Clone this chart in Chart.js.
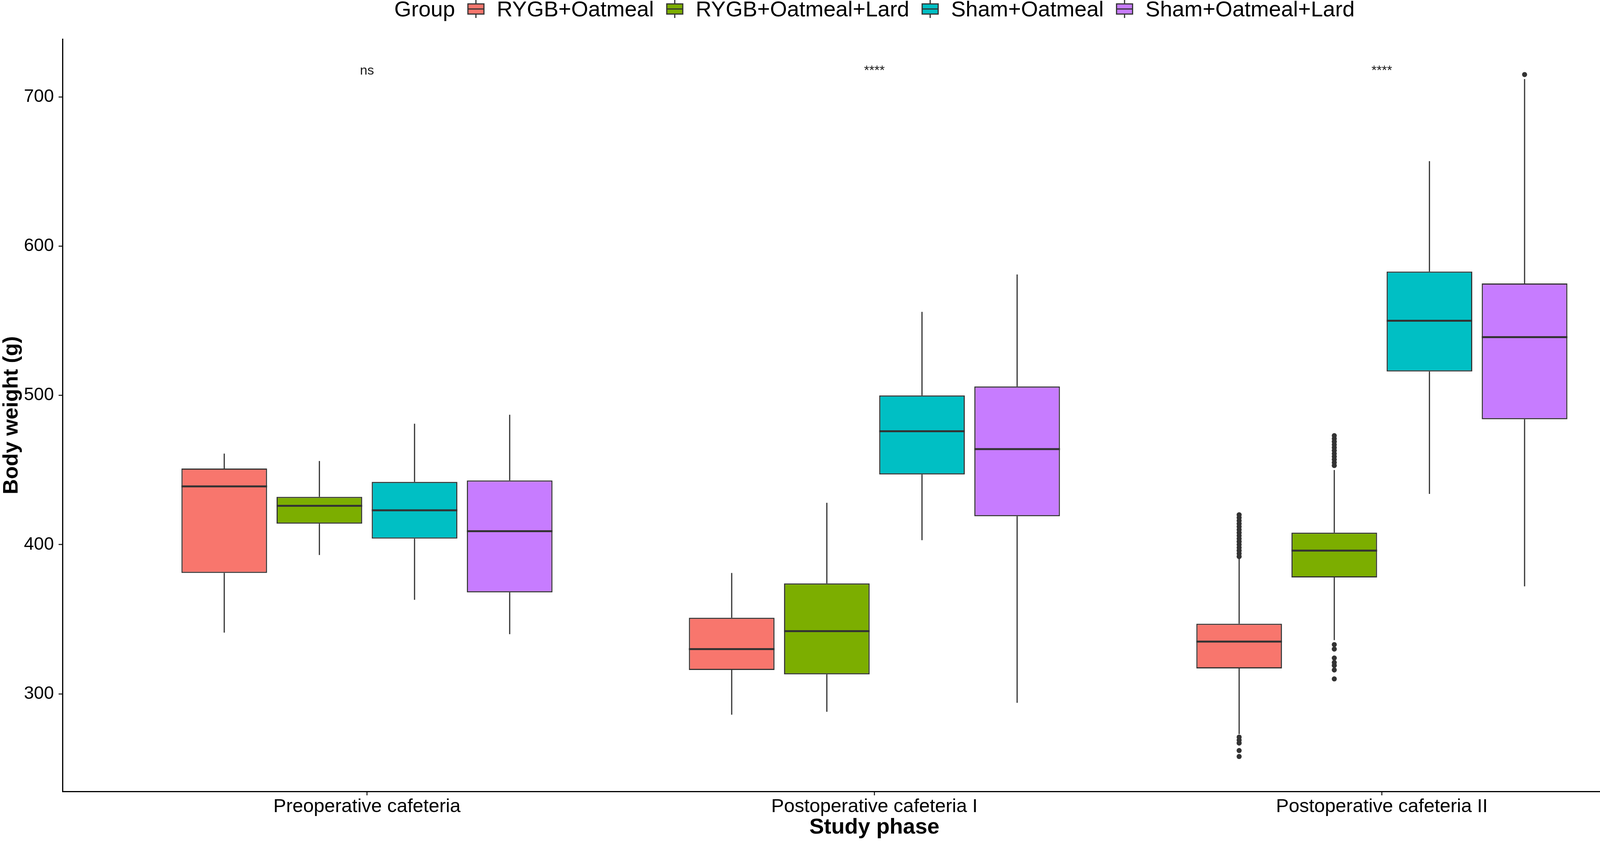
<!DOCTYPE html>
<html>
<head>
<meta charset="utf-8">
<script src="https://cdn.jsdelivr.net/npm/chart.js@4/dist/chart.umd.min.js"></script>
<style>
  html, body { margin: 0; padding: 0; background: #ffffff; }
  #wrap { width: 4317px; height: 2154px; position: relative; }
</style>
</head>
<body>
<div id="wrap"><canvas id="chart"></canvas></div>
<script>
// Study phases (x categories) and groups (fill)
const phases = ['Preoperative cafeteria', 'Postoperative cafeteria I', 'Postoperative cafeteria II'];
const groups = ['RYGB+Oatmeal', 'RYGB+Oatmeal+Lard', 'Sham+Oatmeal', 'Sham+Oatmeal+Lard'];
const colors = ['#F8766D', '#7CAE00', '#00BFC4', '#C77CFF'];

// Box statistics, one row per group, one column per phase (g)
const lower  = [[341, 286, 273], [393, 288, 336], [363, 403, 434], [340, 294, 372]];
const q1     = [[381, 316, 317], [414, 313, 378], [404, 447, 516], [368, 419, 484]];
const median = [[439, 330, 335], [426, 342, 396], [423, 476, 550], [409, 464, 539]];
const q3     = [[451, 351, 347], [432, 374, 408], [442, 500, 583], [443, 506, 575]];
const upper  = [[461, 381, 391], [456, 428, 450], [481, 556, 657], [487, 581, 712]];

// Outlying points
const outliers = [
  [[], [], [420, 418, 416, 414, 412, 410, 408, 406, 404, 402, 400, 398, 396, 394, 392, 271, 269, 267, 262, 258]],
  [[], [], [473, 471, 469, 467, 465, 463, 461, 459, 457, 455, 453, 333, 330, 324, 321, 319, 316, 310]],
  [[], [], []],
  [[], [], [715]]
];

// Significance labels above each phase
const sigLabels = ['ns', '****', '****'];
const sigValue = 715;

const yTicks = [300, 400, 500, 600, 700];

const FONT = "'Liberation Sans', Arial, Helvetica, sans-serif";
const LINE = '#333333';
Chart.defaults.font.family = FONT;
Chart.defaults.color = '#000000';

const boxExtras = {
  id: 'boxExtras',
  beforeDatasetsDraw(chart) {
    // whiskers
    const { ctx } = chart;
    const y = chart.scales.y;
    ctx.save();
    ctx.strokeStyle = LINE;
    ctx.lineWidth = 3;
    chart.data.datasets.forEach((ds, g) => {
      chart.getDatasetMeta(g).data.forEach((bar, p) => {
        const { x } = bar.getProps(['x'], true);
        ctx.beginPath();
        ctx.moveTo(x, y.getPixelForValue(q3[g][p]));
        ctx.lineTo(x, y.getPixelForValue(upper[g][p]));
        ctx.moveTo(x, y.getPixelForValue(q1[g][p]));
        ctx.lineTo(x, y.getPixelForValue(lower[g][p]));
        ctx.stroke();
      });
    });
    ctx.restore();
  },
  afterDatasetsDraw(chart) {
    const { ctx } = chart;
    const y = chart.scales.y;
    const xs = chart.scales.x;
    ctx.save();
    chart.data.datasets.forEach((ds, g) => {
      chart.getDatasetMeta(g).data.forEach((bar, p) => {
        const { x, width } = bar.getProps(['x', 'width'], true);
        // median line
        ctx.strokeStyle = LINE;
        ctx.lineWidth = 5;
        ctx.beginPath();
        const my = y.getPixelForValue(median[g][p]);
        ctx.moveTo(x - width / 2, my);
        ctx.lineTo(x + width / 2, my);
        ctx.stroke();
        // outliers
        ctx.fillStyle = LINE;
        outliers[g][p].forEach(v => {
          ctx.beginPath();
          ctx.arc(x, y.getPixelForValue(v), 6.5, 0, Math.PI * 2);
          ctx.fill();
        });
      });
    });
    // significance labels
    ctx.fillStyle = '#1a1a1a';
    ctx.font = '34px ' + FONT;
    ctx.textAlign = 'center';
    ctx.textBaseline = 'alphabetic';
    sigLabels.forEach((t, p) => {
      ctx.fillText(t, xs.getPixelForValue(p + 1), y.getPixelForValue(sigValue));
    });
    ctx.restore();
  },
  afterDraw(chart) {
    // legend laid out in one row, centred over the panel
    const { ctx, chartArea } = chart;
    const size = 56, gap = 33, keyW = 41;
    ctx.save();
    ctx.font = size + 'px ' + FONT;
    const titleW = ctx.measureText('Group').width;
    const labelW = groups.map(g => ctx.measureText(g).width);
    const total = titleW + groups.length * (gap * 2 + keyW) + labelW.reduce((a, b) => a + b, 0);
    let cx = (chartArea.left + chartArea.right) / 2 - total / 2;
    const ty = 27;
    ctx.fillStyle = '#000000';
    ctx.textAlign = 'left';
    ctx.textBaseline = 'middle';
    ctx.fillText('Group', cx, ty);
    cx += titleW + gap;
    groups.forEach((name, g) => {
      const kx = cx + keyW / 2;
      ctx.strokeStyle = LINE;
      ctx.lineWidth = 3;
      ctx.beginPath();
      ctx.moveTo(kx, 0);
      ctx.lineTo(kx, 46);
      ctx.stroke();
      ctx.fillStyle = colors[g];
      ctx.fillRect(cx, 10, keyW, 26);
      ctx.strokeRect(cx, 10, keyW, 26);
      ctx.beginPath();
      ctx.moveTo(cx, 23);
      ctx.lineTo(cx + keyW, 23);
      ctx.stroke();
      cx += keyW + gap;
      ctx.fillStyle = '#000000';
      ctx.fillText(name, cx, ty);
      cx += labelW[g] + gap;
    });
    ctx.restore();
  }
};

const datasets = groups.map((name, g) => ({
  label: name,
  data: phases.map((ph, p) => ({ x: p + 1, y: [q1[g][p], q3[g][p]] })),
  backgroundColor: colors[g],
  borderColor: LINE,
  borderWidth: 3,
  borderSkipped: false,
  categoryPercentage: 0.75,
  barPercentage: 0.9
}));

new Chart(document.getElementById('chart'), {
  type: 'bar',
  data: { datasets: datasets },
  plugins: [boxExtras],
  options: {
    responsive: true,
    maintainAspectRatio: false,
    animation: false,
    devicePixelRatio: 1,
    layout: { padding: { top: 100, left: 0, right: 0, bottom: 0 } },
    plugins: {
      legend: { display: false },
      tooltip: { enabled: false }
    },
    scales: {
      x: {
        type: 'linear',
        min: 0.4,
        max: 3.6,
        offset: false,
        afterBuildTicks: scale => { scale.ticks = phases.map((ph, p) => ({ value: p + 1 })); },
        afterFit: scale => { scale.height = 127; },
        ticks: {
          autoSkip: false,
          maxRotation: 0,
          padding: 0,
          font: { size: 49 },
          color: '#000000',
          callback: v => phases[Math.round(v) - 1]
        },
        grid: { display: true, offset: false, drawOnChartArea: false, drawTicks: true, tickLength: 10, tickColor: LINE, tickWidth: 3 },
        border: { display: true, color: '#000000', width: 3 },
        title: {
          display: true,
          text: 'Study phase',
          font: { size: 56, weight: 'bold', lineHeight: 1.2 },
          padding: { top: 0, bottom: 1 },
          color: '#000000'
        }
      },
      y: {
        type: 'linear',
        min: 234.6,
        max: 738.8,
        afterBuildTicks: scale => { scale.ticks = yTicks.map(v => ({ value: v })); },
        afterFit: scale => { scale.width = 160; },
        ticks: { padding: 12, font: { size: 46 }, color: '#000000' },
        grid: { display: true, drawOnChartArea: false, drawTicks: true, tickLength: 10, tickColor: LINE, tickWidth: 3 },
        border: { display: true, color: '#000000', width: 3 },
        title: {
          display: true,
          text: 'Body weight (g)',
          font: { size: 54, weight: 'bold', lineHeight: 1.1 },
          padding: 0,
          color: '#000000'
        }
      }
    }
  }
});
</script>
</body>
</html>
